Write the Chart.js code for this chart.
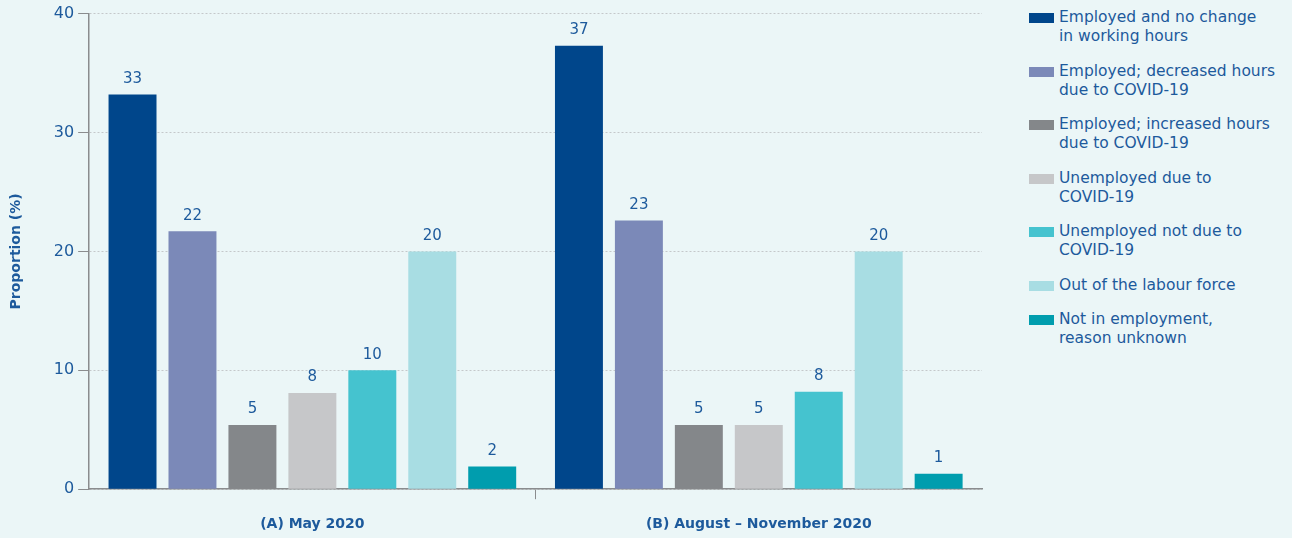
<!DOCTYPE html>
<html>
<head>
<meta charset="utf-8">
<script src="https://cdn.jsdelivr.net/npm/chart.js@4"></script>
<style>
    html, body { margin: 0; padding: 0; background: #ebf6f7; overflow: hidden; }
    #wrap { position: relative; width: 1292px; height: 538px; overflow: hidden; }
    #box { position: absolute; left: 0; top: 0; width: 1000px; height: 556px; }
    #legend { position: absolute; left: 1029px; top: 8px; font-family: "DejaVu Sans", sans-serif; font-size: 15.5px; color: #1d5a9c; }
    .item { position: relative; padding-left: 30px; line-height: 19px; margin-bottom: 15.5px; white-space: nowrap; }
    .item span { position: absolute; left: 0; top: 5px; width: 25px; height: 10px; }
</style>
</head>
<body>
<div id="wrap">
    <div id="box"><canvas id="chart"></canvas></div>
    <div id="legend"></div>
</div>
<script>
const categorias = ["(A) May 2020", "(B) August \u2013 November 2020"];
const series = [
    ["Employed and no change", "in working hours"],
    ["Employed; decreased hours", "due to COVID-19"],
    ["Employed; increased hours", "due to COVID-19"],
    ["Unemployed due to", "COVID-19"],
    ["Unemployed not due to", "COVID-19"],
    ["Out of the labour force"],
    ["Not in employment,", "reason unknown"]
];
const may2020 = [33.2, 21.7, 5.4, 8.1, 10.0, 20.0, 1.9];
const augNov2020 = [37.3, 22.6, 5.4, 5.4, 8.2, 20.0, 1.3];
const yTicks = [0, 10, 20, 30, 40];
const cores = ["#00468b", "#7b89b8", "#84878a", "#c6c7c9", "#45c3cf", "#a8dde3", "#009dae"];

const azul = "#1d5a9c";
const fonte = "'DejaVu Sans', sans-serif";

const rotulos = {
    id: "rotulos",
    afterDatasetsDraw(chart) {
        let ctx = chart.ctx;
        ctx.save();
        ctx.font = "15px " + fonte;
        ctx.fillStyle = azul;
        ctx.textAlign = "center";
        ctx.textBaseline = "bottom";
        chart.data.datasets.forEach((ds, i) => {
            chart.getDatasetMeta(i).data.forEach((bar, j) => {
                ctx.fillText(Math.round(ds.data[j]), bar.x, bar.y - 8);
            });
        });
        ctx.restore();
    }
};

onload = () => {
    let datasets = series.map((nome, i) => ({
        label: nome.join(" "),
        data: [may2020[i], augNov2020[i]],
        backgroundColor: cores[i],
        barPercentage: 0.8,
        categoryPercentage: 0.94
    }));

    new Chart(document.getElementById("chart"), {
        type: "bar",
        data: { labels: categorias, datasets: datasets },
        options: {
            responsive: true,
            maintainAspectRatio: false,
            animation: false,
            layout: { padding: { top: 13, right: 18, bottom: 6, left: 8 } },
            plugins: {
                legend: { display: false },
                tooltip: { enabled: false }
            },
            scales: {
                x: {
                    grid: {
                        drawOnChartArea: false,
                        tickLength: 10,
                        tickColor: c => c.index === 1 ? "#8a8c8e" : "transparent"
                    },
                    border: { color: "#8a8c8e", width: 1.5 },
                    ticks: {
                        padding: 17,
                        color: azul,
                        font: { family: fonte, size: 14, weight: "bold" }
                    }
                },
                y: {
                    min: 0,
                    max: 40,
                    afterBuildTicks: axis => { axis.ticks = yTicks.map(v => ({ value: v })); },
                    grid: {
                        color: "#c4c8ca",
                        tickColor: "#8a8c8e",
                        tickLength: 11,
                        tickBorderDash: []
                    },
                    border: { color: "#8a8c8e", width: 1.5, dash: [2, 2] },
                    ticks: {
                        padding: 4,
                        color: azul,
                        font: { family: fonte, size: 16 }
                    },
                    title: {
                        display: true,
                        text: "Proportion (%)",
                        color: azul,
                        padding: { top: 0, bottom: 25 },
                        font: { family: fonte, size: 14, weight: "bold" }
                    }
                }
            }
        },
        plugins: [rotulos]
    });

    let legenda = document.getElementById("legend");
    series.forEach((nome, i) => {
        let div = document.createElement("div");
        div.className = "item";
        div.innerHTML = `<span style="background:${cores[i]}"></span>` + nome.join("<br>");
        legenda.appendChild(div);
    });
};
</script>
</body>
</html>
